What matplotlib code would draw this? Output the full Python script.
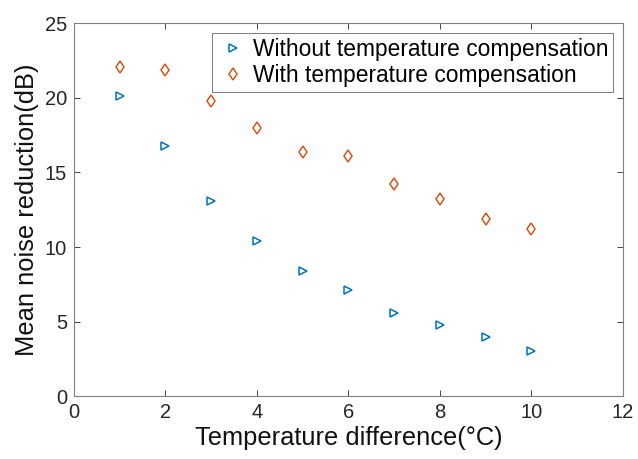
import matplotlib
matplotlib.use("Agg")
import matplotlib.pyplot as plt

temp_diff = [1, 2, 3, 4, 5, 6, 7, 8, 9, 10]
without_comp = [20.1, 16.8, 13.1, 10.4, 8.4, 7.1, 5.6, 4.75, 3.95, 3.0]
with_comp = [22.1, 21.9, 19.8, 18.0, 16.4, 16.1, 14.2, 13.2, 11.9, 11.2]
x_ticks = [0, 2, 4, 6, 8, 10, 12]
y_ticks = [0, 5, 10, 15, 20, 25]

plt.rcParams['font.family'] = ['Liberation Sans', 'DejaVu Sans']

fig = plt.figure(figsize=(6.38, 4.59), dpi=100)
ax = fig.add_axes([0.116, 0.137, 0.860, 0.812])

ax.plot(temp_diff, without_comp, linestyle='none', marker='>', markersize=5.5,
        markerfacecolor='none', markeredgecolor='#0072BD', markeredgewidth=1.1,
        label='Without temperature compensation')
ax.plot(temp_diff, with_comp, linestyle='none', marker='d', markersize=6,
        markerfacecolor='none', markeredgecolor='#D95319', markeredgewidth=1.1,
        label='With temperature compensation')

ax.set_xlim(0, 12)
ax.set_ylim(0, 25)
ax.set_xticks(x_ticks)
ax.set_yticks(y_ticks)
ax.tick_params(direction='in', top=True, right=True, labelsize=14.5, colors='#262626',
               length=4, width=0.6, pad=5)
for s in ax.spines.values():
    s.set_color('#808080')
    s.set_linewidth(0.8)

ax.set_xlabel('Temperature difference(°C)', fontsize=18.4, color='#111111', labelpad=3)
ax.set_ylabel('Mean noise reduction(dB)', fontsize=18.4, color='#111111', labelpad=4)

leg = ax.legend(loc='upper right', bbox_to_anchor=(0.982, 0.974), fontsize=16.4,
                frameon=True, fancybox=False, edgecolor='#404040', handlelength=1.5,
                handletextpad=0.1, borderpad=0.2, labelspacing=0.15, borderaxespad=0)
leg.get_frame().set_linewidth(0.6)

fig.savefig('out.png', dpi=100)
